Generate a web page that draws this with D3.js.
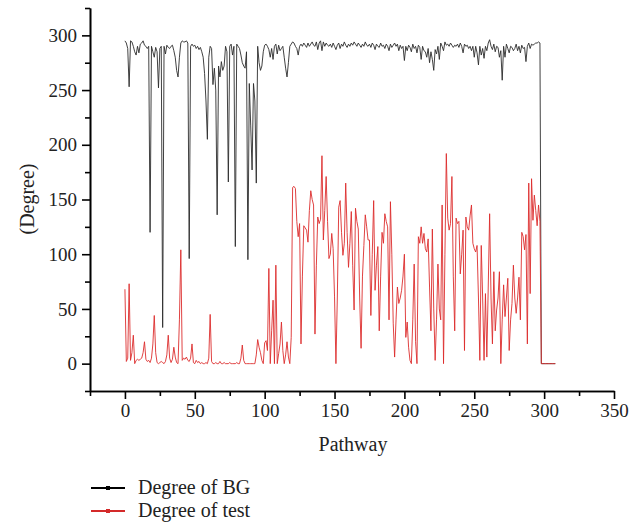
<!DOCTYPE html>
<html>
<head>
<meta charset="utf-8">
<script src="https://cdn.jsdelivr.net/npm/d3@7"></script>
<style>
  body { margin: 0; background: #fff; }
  svg { display: block; }
  text { font-family: "Liberation Serif", "Times New Roman", serif; fill: #222; }
</style>
</head>
<body>
<svg id="chart" width="640" height="525"></svg>
<script>
// ---- Data ----
const seriesNames = ["Degree of BG", "Degree of test"];
const xTicks = [0, 50, 100, 150, 200, 250, 300, 350];
const yTicks = [0, 50, 100, 150, 200, 250, 300];

const degreeBG = [
295,293,288,253,295,294,290,285,282,290,284,292,293,295,291,290,288,290,120,290,
285,280,289,285,252,288,290,33,290,283,291,289,288,290,291,286,280,268,262,280,
293,295,294,294,295,293,96,290,292,290,291,288,290,287,289,285,280,265,240,205,
280,290,288,255,270,250,136,272,262,276,268,272,290,285,166,290,292,282,290,107,
292,290,288,282,275,272,270,285,95,256,218,177,256,240,165,290,275,268,272,285,
291,292,290,287,280,288,278,290,292,283,291,286,288,290,280,270,262,275,290,292,
294,293,290,288,282,290,292,290,293,291,289,293,290,292,294,291,290,294,287,293,
295,286,294,290,293,291,290,292,289,293,290,287,291,293,288,292,290,294,291,289,
292,290,293,291,294,292,290,293,291,289,292,290,294,291,290,292,289,293,291,287,
292,290,289,293,290,291,288,292,290,286,292,289,291,293,290,292,286,291,288,290,
277,290,286,291,289,285,292,288,290,284,291,289,278,290,286,285,280,288,275,285,
278,268,287,283,290,278,293,290,286,294,291,292,290,293,291,289,291,290,292,289,
293,290,284,292,290,291,288,290,286,290,280,290,284,273,290,282,288,279,290,286,
293,296,290,287,292,285,290,289,280,286,259,290,280,292,288,284,290,289,286,288,
292,286,290,284,291,288,289,276,290,293,288,292,291,292,293,293,294,293,0,0,
0,0,0,0,0,0,0,0,0
];

const degreeTest = [
68,2,5,73,3,10,26,0,3,4,3,4,5,10,20,4,2,3,1,5,
18,44,10,1,0,1,2,1,0,2,8,26,5,1,4,15,6,1,0,40,
104,3,5,4,6,3,2,5,18,1,0,3,1,2,0,1,0,0,1,0,
5,45,2,0,0,1,0,0,2,0,0,1,0,0,0,1,0,0,0,0,
1,0,0,5,17,3,0,0,0,0,0,0,0,0,8,22,15,10,3,0,
19,21,12,87,0,30,58,0,90,0,9,18,38,12,0,8,20,6,0,24,
161,162,160,130,116,128,18,80,126,124,122,111,140,158,150,145,27,90,134,128,
132,190,113,140,171,130,96,100,119,105,61,0,60,143,149,120,99,110,165,120,
88,110,139,90,49,142,130,123,60,14,80,108,136,125,113,113,44,100,149,67,
90,107,30,80,120,110,137,130,125,40,148,100,37,6,40,70,55,60,67,80,
100,24,38,15,3,0,40,91,20,0,116,110,125,110,119,105,102,114,70,30,
123,50,3,40,91,50,40,145,0,100,192,133,122,128,171,80,30,133,128,130,
82,100,122,12,134,125,122,135,145,110,105,102,108,60,3,108,60,3,64,6,
70,137,60,18,84,30,49,60,84,0,40,72,43,60,78,12,40,55,90,60,
46,60,79,40,120,116,104,118,18,165,64,169,131,154,140,126,145,130,0,0,
0,0,0,0,0,0,0,0,0
];

const seriesColors = ["#2b2b2b", "#dd2c2c"];

// ---- Layout ----
const svg = d3.select("#chart");
const x = d3.scaleLinear().domain([-25, 350]).range([90, 614]);
const y = d3.scaleLinear().domain([-25, 325]).range([391, 8]);

// data lines
const line = d3.line()
  .x((d, i) => x(i))
  .y(d => y(d));

// test first, BG on top? In reference red is drawn over black at the end
svg.append("path")
  .datum(degreeBG)
  .attr("d", line)
  .attr("fill", "none")
  .attr("stroke", seriesColors[0])
  .attr("stroke-width", 0.9)
  .attr("stroke-linejoin", "round");

svg.append("path")
  .datum(degreeTest)
  .attr("d", line)
  .attr("fill", "none")
  .attr("stroke", seriesColors[1])
  .attr("stroke-width", 0.9)
  .attr("stroke-linejoin", "round");

// ---- Axes ----
const xAxis = d3.axisBottom(x).tickValues(xTicks).tickSize(8).tickSizeOuter(0).tickPadding(5);
const xMinor = d3.axisBottom(x).tickValues(d3.range(-25, 351, 25).filter(v => v % 50 !== 0)).tickSize(5).tickFormat("").tickSizeOuter(0);
const yAxis = d3.axisLeft(y).tickValues(yTicks).tickSize(8).tickSizeOuter(0).tickPadding(5);
const yMinor = d3.axisLeft(y).tickValues(d3.range(-25, 326, 25).filter(v => v % 50 !== 0)).tickSize(5).tickFormat("").tickSizeOuter(0);

function styleAxis(g) {
  g.select(".domain").attr("stroke", "#000").attr("stroke-width", 1.6);
  g.selectAll(".tick line").attr("stroke", "#000").attr("stroke-width", 1.6);
  g.selectAll(".tick text").attr("font-size", 19).attr("fill", "#222")
    .attr("font-family", "'Liberation Serif', serif");
}

svg.append("g").attr("transform", `translate(0,${y(-25)})`).call(xMinor).call(styleAxis);
svg.append("g").attr("transform", `translate(0,${y(-25)})`).call(xAxis).call(styleAxis);
svg.append("g").attr("transform", `translate(${x(-25)},0)`).call(yMinor).call(styleAxis);
svg.append("g").attr("transform", `translate(${x(-25)},0)`).call(yAxis).call(styleAxis);

// axis titles
svg.append("text")
  .attr("x", 353).attr("y", 451)
  .attr("text-anchor", "middle")
  .attr("font-size", 20)
  .text("Pathway");

svg.append("text")
  .attr("transform", "translate(34,199) rotate(-90)")
  .attr("text-anchor", "middle")
  .attr("font-size", 20)
  .text("(Degree)");

// ---- Legend ----
const legend = svg.append("g");
seriesNames.forEach((name, k) => {
  const ly = 488 + k * 23;
  legend.append("line")
    .attr("x1", 91).attr("x2", 125).attr("y1", ly).attr("y2", ly)
    .attr("stroke", k === 0 ? "#000" : "#d42a2a").attr("stroke-width", 1.8);
  legend.append("rect")
    .attr("x", 106).attr("y", ly - 2).attr("width", 4).attr("height", 4)
    .attr("fill", k === 0 ? "#000" : "#d42a2a");
  legend.append("text")
    .attr("x", 138).attr("y", ly + 6)
    .attr("font-size", 20)
    .text(name);
});
</script>
</body>
</html>
